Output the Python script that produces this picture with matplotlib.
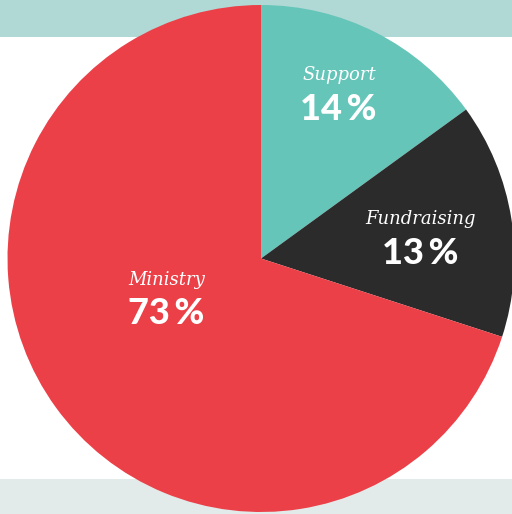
import matplotlib.pyplot as plt

# Datos
categorias = ['Support', 'Fundraising', 'Ministry']
porciones = [15, 15, 70]          # tamano de cada sector (medido en la imagen)
porcentajes = [14, 13, 73]        # texto que aparece en cada sector
colores = ['#66c5b9', '#2b2b2b', '#ec4048']

W, H = 512, 514
fig = plt.figure(figsize=(W / 100, H / 100), dpi=100)
ax = fig.add_axes([0, 0, 1, 1])

# Bandas de fondo (arriba verde claro, abajo gris verdoso)
ax.axhspan(H - 37, H, color='#b0d8d4', zorder=0, lw=0)
ax.axhspan(0, H - 479, color='#e2ebea', zorder=0, lw=0)

centro = (261, H - 258.5)
radio = 253.5
ax.pie(porciones, colors=colores, startangle=90, counterclock=False,
       center=centro, radius=radio,
       wedgeprops={'linewidth': 0, 'zorder': 2})

# Posiciones de las etiquetas (x, y del nombre y del porcentaje)
pos_nombre = [(339, 75), (421, 219), (167, 280)]
pos_pct = [(338, 109), (420, 254), (166, 313)]

for cat, pct, (xn, yn), (xp, yp) in zip(categorias, porcentajes, pos_nombre, pos_pct):
    ax.text(xn, H - yn, cat, ha='center', va='center', color='white',
            family='DejaVu Serif', style='italic', fontsize=13, zorder=3)
    ax.text(xp, H - yp, f'{pct}\u2009%', ha='center', va='center', color='white',
            family=['Lato', 'DejaVu Sans'], weight='black', fontsize=26, zorder=3)

ax.set_xlim(0, W)
ax.set_ylim(0, H)
ax.set_aspect('auto')
ax.axis('off')

fig.savefig('out.png', dpi=100)
